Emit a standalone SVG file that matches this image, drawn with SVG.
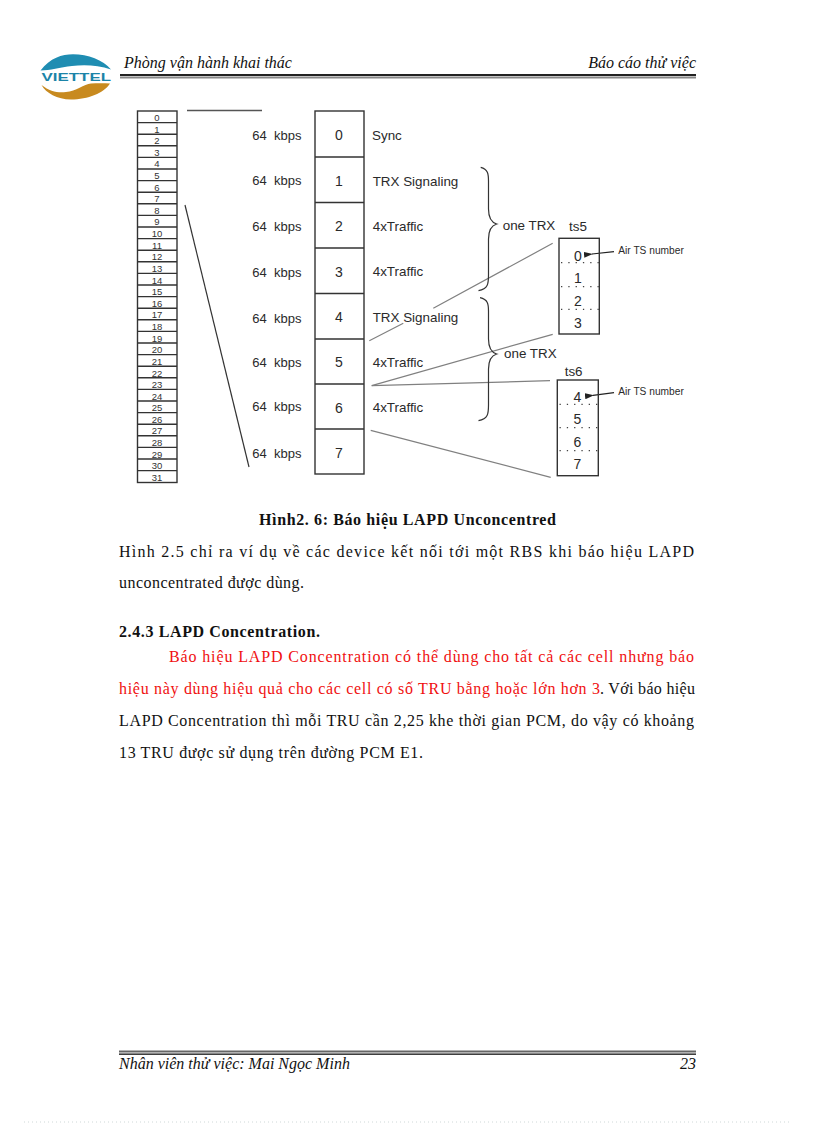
<svg xmlns="http://www.w3.org/2000/svg" width="816" height="1123" viewBox="0 0 816 1123">
<style>
.s{font-family:"Liberation Sans",Arial,sans-serif;fill:#2a2a2a}
.l{font-size:13.4px}
.k{font-size:13px;word-spacing:3.6px}
.c{font-size:14px;text-anchor:middle}
.t{font-size:9.5px;text-anchor:middle;fill:#333}
.a{font-size:10.2px}
.b{font-family:"Liberation Serif","Times New Roman",serif;font-size:16px;fill:#111}
.r{fill:#f01010}
.h{font-family:"Liberation Serif","Times New Roman",serif;font-size:16px;font-style:italic;fill:#111}
.box{fill:none;stroke:#333;stroke-width:1.4}
.gl{fill:none;stroke:#808080;stroke-width:1.2}
.dl{fill:none;stroke:#333;stroke-width:1.2}
.dot{fill:none;stroke:#444;stroke-width:1.2;stroke-dasharray:1.3 6}
</style>
<defs>
<marker id="ah" markerWidth="9" markerHeight="6" refX="1" refY="3" orient="auto-start-reverse" markerUnits="userSpaceOnUse"><path d="M0 3L9 0V6Z" fill="#222"/></marker>
</defs>
<rect width="816" height="1123" fill="#fff"/>

<g id="logo">
<path d="M40.5 70.5C50 58 62 54.300 73 54.300C88 54.300 103 60 111 69.500C98 65 84 64.500 72 66C60 67.500 50 70.500 40.500 70.500Z" fill="#1f8db2"/>
<text x="41.500" y="81" font-family="'Liberation Sans',Arial,sans-serif" font-weight="700" font-size="11.500" fill="#1b84a8" textLength="69.500" lengthAdjust="spacingAndGlyphs">VIETTEL</text>
<path d="M41.500 85C50 91.500 58 93 66 92C76 91 84 84.500 91 83.500C97 83 104 83 110 83.500C104 93 88 99.500 71 99.500C57 99.500 46 93 41.500 85Z" fill="#c88a1f"/>
</g>

<g id="header">
<text class="h" x="124" y="68">Phòng vận hành khai thác</text>
<text class="h" x="696" y="68" text-anchor="end">Báo cáo thử việc</text>
<rect x="120" y="74" width="576" height="2" fill="#222"/>
<rect x="120" y="76.500" width="576" height="2" fill="#888"/>
</g>

<g id="figure">
<g id="timeslot-ladder">
<rect class="box" x="137.500" y="111" width="39.500" height="371.500"/>
<path class="box" d="M137.500 122.600H177M137.500 134.200H177M137.500 145.800H177M137.500 157.400H177M137.500 169H177M137.500 180.600H177M137.500 192.200H177M137.500 203.800H177M137.500 215.400H177M137.500 227H177M137.500 238.600H177M137.500 250.200H177M137.500 261.800H177M137.500 273.400H177M137.500 285H177M137.500 296.600H177M137.500 308.200H177M137.500 319.800H177M137.500 331.400H177M137.500 343H177M137.500 354.600H177M137.500 366.200H177M137.500 377.800H177M137.500 389.400H177M137.500 401H177M137.500 412.600H177M137.500 424.200H177M137.500 435.800H177M137.500 447.400H177M137.500 459H177M137.500 470.600H177"/>
<g class="s">
<text class="s t" x="157" y="121">0</text><text class="s t" x="157" y="132.600">1</text><text class="s t" x="157" y="144">2</text><text class="s t" x="157" y="155.800">3</text><text class="s t" x="157" y="167.400">4</text><text class="s t" x="157" y="178.500">5</text><text class="s t" x="157" y="190.600">6</text><text class="s t" x="157" y="201.500">7</text><text class="s t" x="157" y="213.800">8</text><text class="s t" x="157" y="225">9</text><text class="s t" x="157" y="237">10</text><text class="s t" x="157" y="248.600">11</text><text class="s t" x="157" y="260">12</text><text class="s t" x="157" y="271.500">13</text><text class="s t" x="157" y="284">14</text><text class="s t" x="157" y="295">15</text><text class="s t" x="157" y="307">16</text><text class="s t" x="157" y="318">17</text><text class="s t" x="157" y="330">18</text><text class="s t" x="157" y="341.500">19</text><text class="s t" x="157" y="353">20</text><text class="s t" x="157" y="364.500">21</text><text class="s t" x="157" y="376.500">22</text><text class="s t" x="157" y="388">23</text><text class="s t" x="157" y="400">24</text><text class="s t" x="157" y="411">25</text><text class="s t" x="157" y="423">26</text><text class="s t" x="157" y="434">27</text><text class="s t" x="157" y="446">28</text><text class="s t" x="157" y="457.500">29</text><text class="s t" x="157" y="469">30</text><text class="s t" x="157" y="481">31</text>
</g>
</g>

<g id="connectors">
<path d="M187 110.500H262" fill="none" stroke="#555" stroke-width="1.600"/>
<path class="dl" d="M185 205L249 467"/>
<path class="gl" d="M369.300 340.700L403.300 323.300M433.300 308.300L552.700 243.300"/>
<path class="gl" d="M371.700 385.700L552.700 334.300"/>
<path class="gl" d="M371.700 385.700L550 380.700"/>
<path class="gl" d="M370.700 430.300L550.700 477.300"/>
<path d="M614 251.700L592 254" fill="none" stroke="#222" stroke-width="1.200" marker-end="url(#ah)"/>
<path d="M614 392.700L593 395.300" fill="none" stroke="#222" stroke-width="1.200" marker-end="url(#ah)"/>
</g>

<g id="channel-stack">
<rect class="box" x="315" y="111" width="49" height="363"/>
<path class="box" d="M315 157H364M315 202.500H364M315 248H364M315 293.500H364M315 339H364M315 384H364M315 429H364"/>
<text class="s c" x="339" y="140">0</text><text class="s c" x="339" y="186">1</text><text class="s c" x="339" y="231">2</text><text class="s c" x="339" y="277">3</text><text class="s c" x="339" y="322">4</text><text class="s c" x="339" y="367">5</text><text class="s c" x="339" y="413">6</text><text class="s c" x="339" y="458">7</text>
<text class="s k" x="252.300" y="140">64 kbps</text><text class="s k" x="252.300" y="185.300">64 kbps</text><text class="s k" x="252.300" y="231">64 kbps</text><text class="s k" x="252.300" y="276.700">64 kbps</text><text class="s k" x="252.300" y="322.700">64 kbps</text><text class="s k" x="252.300" y="366.700">64 kbps</text><text class="s k" x="252.300" y="411.300">64 kbps</text><text class="s k" x="252.300" y="458">64 kbps</text>
<text class="s l" x="372" y="140">Sync</text>
<text class="s l" x="372.700" y="185.700">TRX Signaling</text>
<text class="s l" x="372.700" y="231">4xTraffic</text>
<text class="s l" x="372.700" y="276">4xTraffic</text>
<text class="s l" x="372.700" y="321.700">TRX Signaling</text>
<text class="s l" x="372.700" y="366.700">4xTraffic</text>
<text class="s l" x="372.700" y="411.700">4xTraffic</text>
</g>

<g id="brace-1">
<path class="dl" d="M480.700 167.300C488 169 488.500 174 488.500 181V209C488.500 216 490 222 496.700 224C490 226 488.500 232 488.500 239V275C488.500 284 488 289 478.500 290.700"/>
<text class="s l" x="502.700" y="230">one TRX</text>
</g>
<g id="brace-2">
<path class="dl" d="M480 297.700C488 299.500 488.500 304 488.500 311V339C488.500 346 490 352 496.700 354C490 356 488.500 362 488.500 369V405C488.500 414 488 419 478.500 420.700"/>
<text class="s l" x="504" y="358.300">one TRX</text>
</g>

<g id="ts5">
<rect class="box" x="559" y="238.300" width="40.300" height="95.700"/>
<path class="dot" d="M561 262.700H599M561 286.700H599M561 309.300H599"/>
<text class="s l" x="569" y="231">ts5</text>
<text class="s c" x="578" y="261">0</text><text class="s c" x="578" y="283">1</text><text class="s c" x="578" y="305.700">2</text><text class="s c" x="578" y="327.700">3</text>
<text class="s a" x="618.300" y="254">Air TS number</text>
</g>
<g id="ts6">
<rect class="box" x="557.300" y="380" width="41" height="95.700"/>
<path class="dot" d="M559.500 404.300H598M559.500 427.700H598M559.500 450.700H598"/>
<text class="s l" x="564.700" y="375.700">ts6</text>
<text class="s c" x="577.300" y="402">4</text><text class="s c" x="577.300" y="424.300">5</text><text class="s c" x="577.300" y="446.700">6</text><text class="s c" x="577.300" y="469">7</text>
<text class="s a" x="618.300" y="395.300">Air TS number</text>
</g>
</g>

<g id="body">
<text class="b" x="259" y="525" font-weight="700" textLength="297">Hình2. 6: Báo hiệu LAPD Unconcentred</text>
<text class="b" x="119" y="557" textLength="575">Hình 2.5 chỉ ra ví dụ về các device kết nối tới một RBS khi báo hiệu LAPD</text>
<text class="b" x="119" y="588" textLength="185">unconcentrated được dùng.</text>
<text class="b" x="119" y="637" font-weight="700" textLength="201">2.4.3 LAPD Concentration.</text>
<text class="b r" x="169" y="662" textLength="525">Báo hiệu LAPD Concentration có thể dùng cho tất cả các cell nhưng báo</text>
<text class="b r" x="119" y="694" textLength="481">hiệu này dùng hiệu quả cho các cell có số TRU bằng hoặc lớn hơn 3</text>
<text class="b" x="600" y="694" textLength="95">. Với báo hiệu</text>
<text class="b" x="119" y="726" textLength="575">LAPD Concentration thì mỗi TRU cần 2,25 khe thời gian PCM, do vậy có khoảng</text>
<text class="b" x="119" y="758" textLength="304">13 TRU được sử dụng trên đường PCM E1.</text>
</g>

<g id="footer">
<rect x="119" y="1050.500" width="577" height="2" fill="#666"/>
<rect x="119" y="1053.500" width="577" height="1.300" fill="#111"/>
<text class="h" x="119" y="1069">Nhân viên thử việc: Mai Ngọc Minh</text>
<text class="h" x="696" y="1069" text-anchor="end">23</text>
</g>
<path id="page-edge" d="M24 1122H792" fill="none" stroke="#cfd8d8" stroke-width="1" stroke-dasharray="1 3"/>
</svg>
